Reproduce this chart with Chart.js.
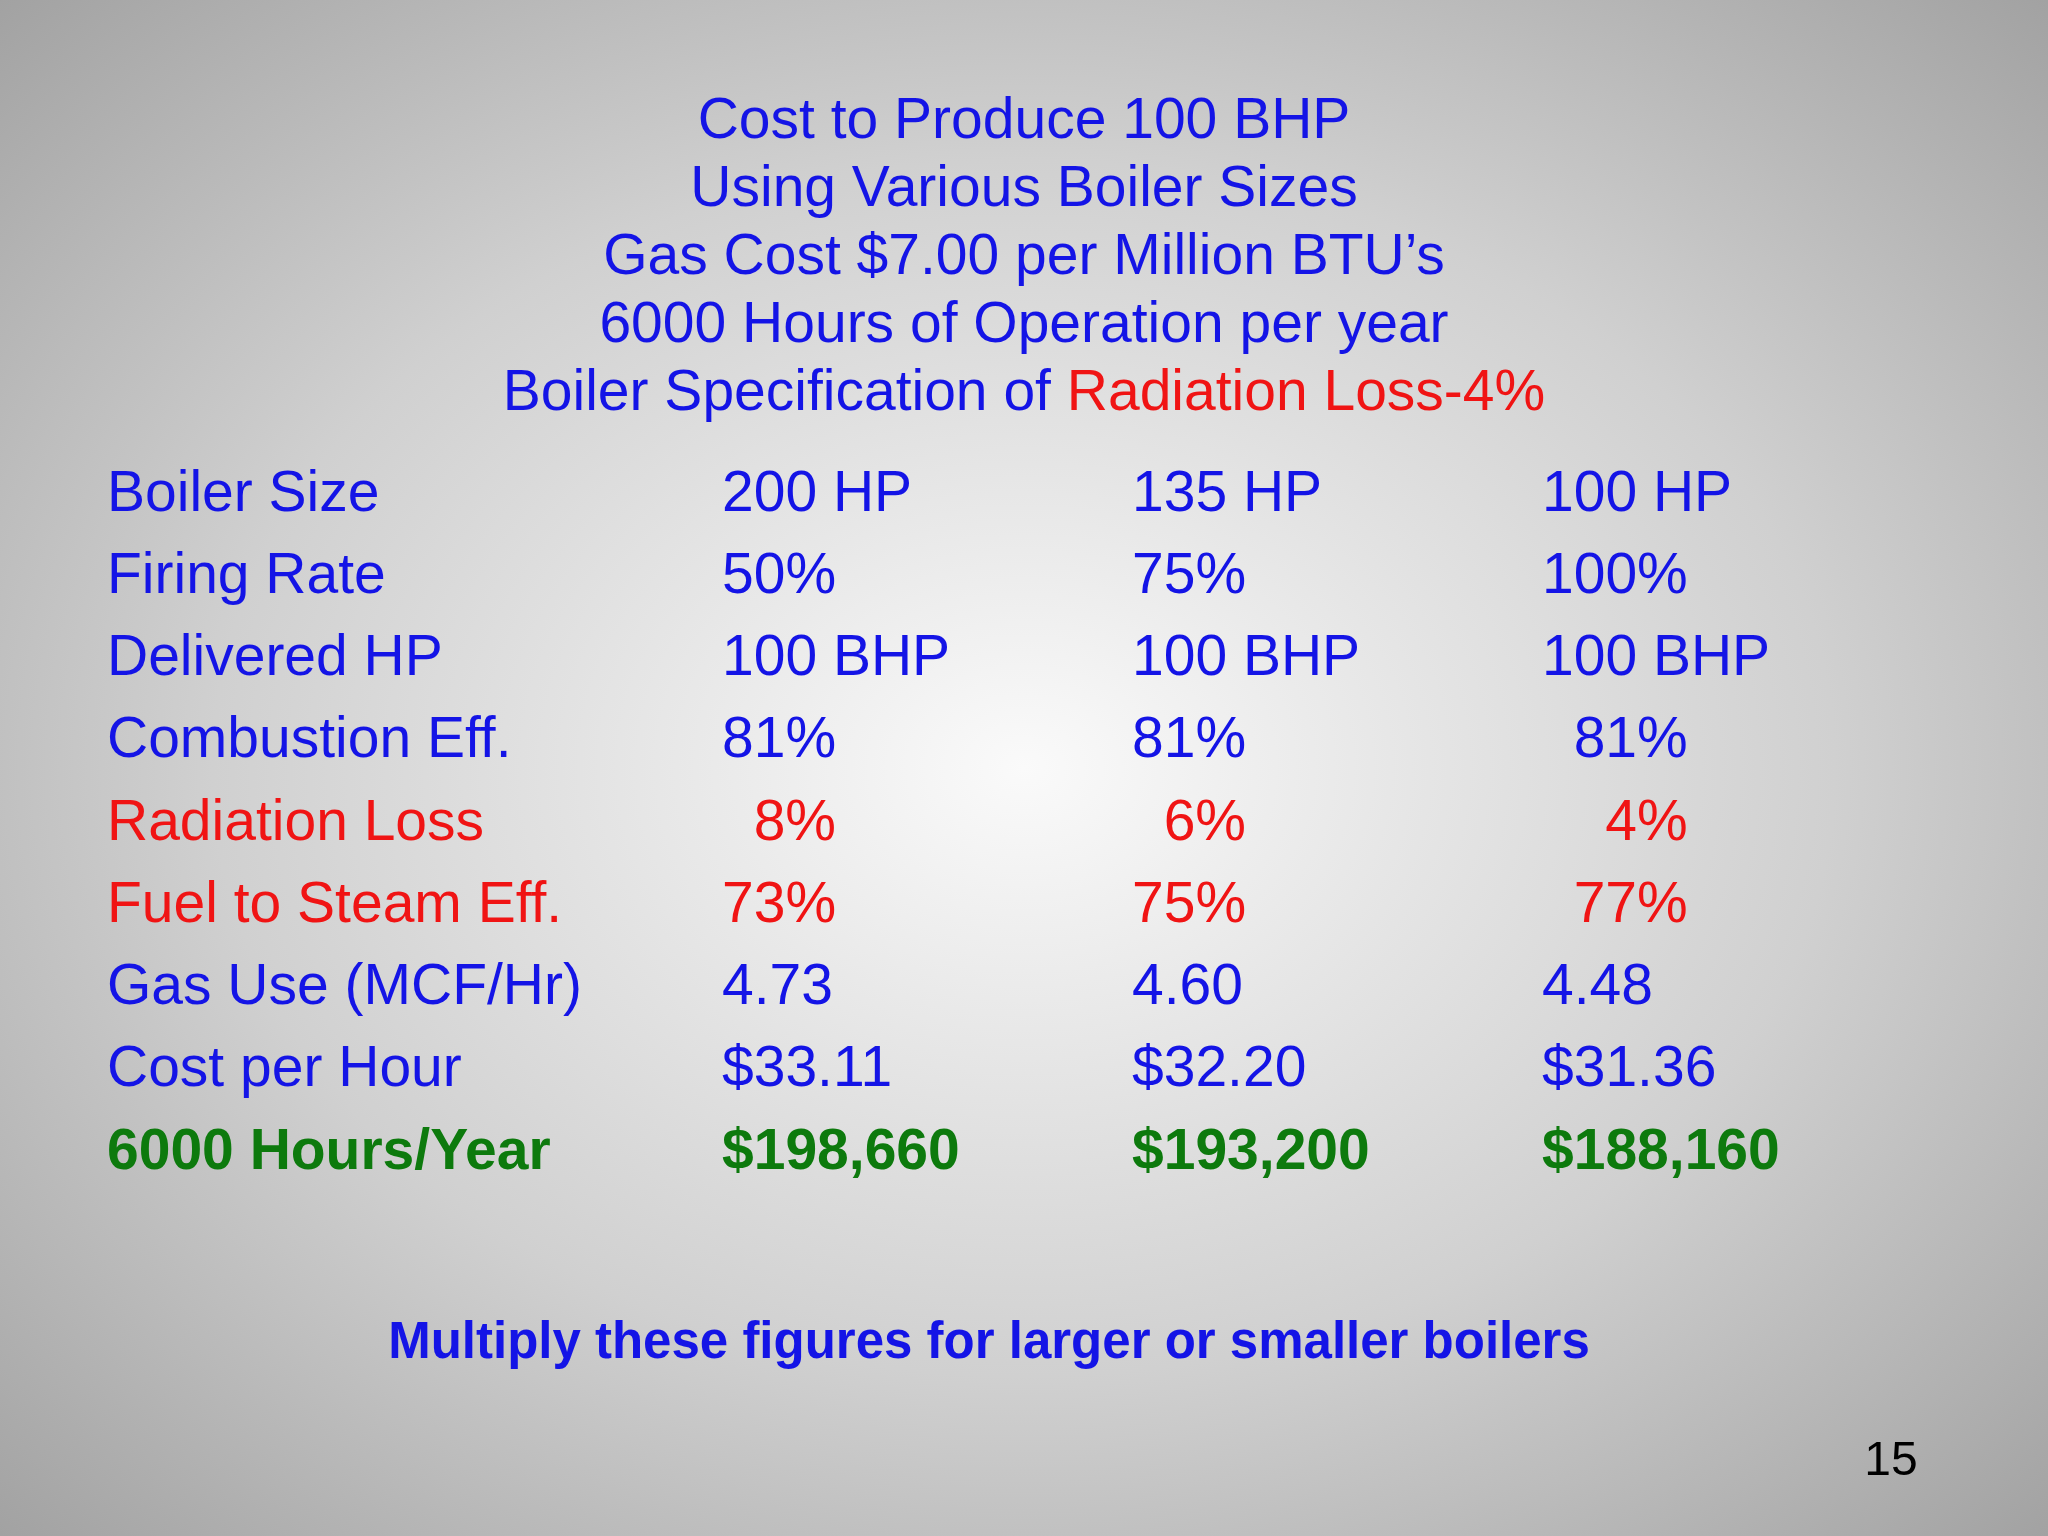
<!DOCTYPE html>
<html>
<head>
<meta charset="utf-8">
<script src="https://cdn.jsdelivr.net/npm/chart.js@4"></script>
<style>
  html, body { margin: 0; padding: 0; }
  body {
    width: 2048px; height: 1536px; overflow: hidden;
    background: radial-gradient(ellipse 72% 72% at 50% 50%, #fafafa 0%, #d0d0d0 55%, #a0a0a0 100%);
  }
</style>
</head>
<body>
<canvas id="chart" width="2048" height="1536"></canvas>
<script>
// Slide text
const titleLines = [
    "Cost to Produce 100 BHP",
    "Using Various Boiler Sizes",
    "Gas Cost $7.00 per Million BTU\u2019s",
    "6000 Hours of Operation per year"
];
const titleLastBlue = "Boiler Specification of ";
const titleLastRed = "Radiation Loss-4%";
const footer = "Multiply these figures for larger or smaller boilers";
const pageNumber = "15";

// Table rows
const rowLabels = [
    "Boiler Size", "Firing Rate", "Delivered HP", "Combustion Eff.", "Radiation Loss",
    "Fuel to Steam Eff.", "Gas Use (MCF/Hr)", "Cost per Hour", "6000 Hours/Year"
];
const col200 = ["200 HP", "50%", "100 BHP", "81%", "  8%", "73%", "4.73", "$33.11", "$198,660"];
const col135 = ["135 HP", "75%", "100 BHP", "81%", "  6%", "75%", "4.60", "$32.20", "$193,200"];
const col100 = ["100 HP", "100%", "100 BHP", "  81%", "    4%", "  77%", "4.48", "$31.36", "$188,160"];
const rowStyle = ["blue", "blue", "blue", "blue", "red", "red", "blue", "blue", "green"];

// column slots on the x axis (label column is 1.5 slots wide)
const columnSlots = [0, 1.5, 2.5, 3.5];
const columns = [rowLabels, col200, col135, col100];

const colors = { blue: "#1414e6", red: "#f01414", green: "#0d7a0d" };
const FONT = "'Liberation Sans', Arial, sans-serif";

const tableText = {
    id: "tableText",
    afterDraw(chart) {
        const ctx = chart.ctx;
        const x = chart.scales.x, y = chart.scales.y;
        ctx.save();
        ctx.textBaseline = "middle";

        // title
        ctx.textAlign = "center";
        ctx.font = "57px " + FONT;
        ctx.fillStyle = colors.blue;
        titleLines.forEach((t, i) => ctx.fillText(t, 1024, 122 + i * 68));
        const wb = ctx.measureText(titleLastBlue).width;
        const wr = ctx.measureText(titleLastRed).width;
        const sx = 1024 - (wb + wr) / 2;
        ctx.textAlign = "left";
        ctx.fillText(titleLastBlue, sx, 394);
        ctx.fillStyle = colors.red;
        ctx.fillText(titleLastRed, sx + wb, 394);

        // table cells
        columns.forEach((col, c) => {
            col.forEach((txt, r) => {
                const style = rowStyle[r];
                ctx.font = (style === "green" ? "bold " : "") + "57px " + FONT;
                ctx.fillStyle = colors[style];
                ctx.fillText(txt, x.getPixelForValue(columnSlots[c]), y.getPixelForValue(rowLabels[r]));
            });
        });

        // footer
        ctx.textAlign = "center";
        ctx.font = "bold 51px " + FONT;
        ctx.fillStyle = colors.blue;
        ctx.fillText(footer, 989, 1344);

        ctx.font = "48px " + FONT;
        ctx.fillStyle = "#000000";
        ctx.fillText(pageNumber, 1891, 1462);
        ctx.restore();
    }
};

new Chart(document.getElementById("chart"), {
    type: "scatter",
    data: {
        datasets: [{
            data: rowLabels.map(l => ({ x: 0, y: l })),
            pointRadius: 0
        }]
    },
    options: {
        responsive: false,
        animation: false,
        devicePixelRatio: 1,
        layout: { padding: { left: 107, right: 301, top: 454, bottom: 342 } },
        plugins: { legend: { display: false }, tooltip: { enabled: false } },
        scales: {
            x: { type: "linear", min: 0, max: 4, display: false },
            y: { type: "category", labels: rowLabels, offset: true, display: false }
        }
    },
    plugins: [tableText]
});
</script>
</body>
</html>
